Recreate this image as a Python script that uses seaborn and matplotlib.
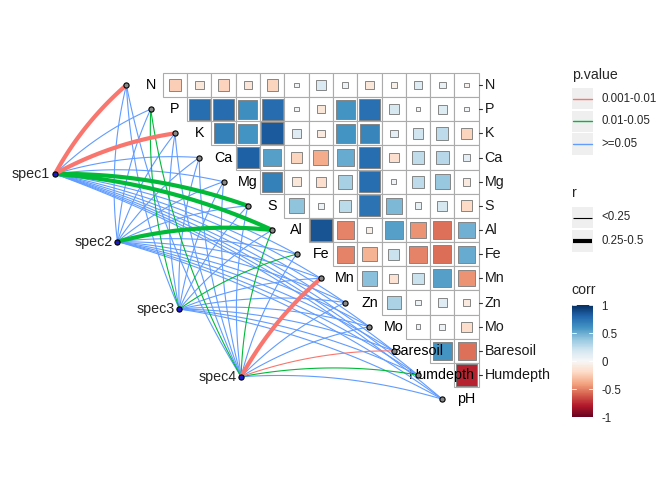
import numpy as np
import pandas as pd
import matplotlib
matplotlib.use('Agg')
import matplotlib.pyplot as plt
from matplotlib.patches import Rectangle
from matplotlib.colors import Normalize
from matplotlib.cm import ScalarMappable
import seaborn as sns

env = ['N', 'P', 'K', 'Ca', 'Mg', 'S', 'Al', 'Fe', 'Mn', 'Zn', 'Mo', 'Baresoil', 'Humdepth', 'pH']
spec = ['spec1', 'spec2', 'spec3', 'spec4']

# upper triangle of the env correlation matrix, row i = cor(env[i], env[i+1:])
r_N = [-0.25, -0.12, -0.23, -0.13, -0.22, 0.03, 0.15, 0.05, -0.12, -0.06, 0.12, 0.07, -0.04]
r_P = [0.76, 0.77, 0.62, 0.77, 0.03, -0.12, 0.60, 0.75, 0.17, 0.02, 0.14, 0.03]
r_K = [0.68, 0.60, 0.84, 0.12, -0.10, 0.60, 0.66, 0.10, 0.20, 0.26, -0.22]
r_Ca = [0.82, 0.55, -0.22, -0.37, 0.50, 0.76, -0.17, 0.25, 0.28, 0.10]
r_Mg = [0.68, -0.12, -0.17, 0.33, 0.76, 0.04, 0.26, 0.38, -0.10]
r_S = [0.40, 0.06, 0.27, 0.74, 0.45, 0.08, 0.17, -0.20]
r_Al = [0.86, -0.50, -0.06, 0.55, -0.45, -0.55, 0.48]
r_Fe = [-0.50, -0.35, 0.22, -0.50, -0.56, 0.50]
r_Mn = [0.42, -0.15, 0.22, 0.55, -0.45]
r_Zn = [0.32, 0.05, 0.12, -0.10]
r_Mo = [0.04, 0.06, -0.18]
r_Baresoil = [0.60, -0.55]
r_Humdepth = [-0.77]
corr_rows = [r_N, r_P, r_K, r_Ca, r_Mg, r_S, r_Al, r_Fe, r_Mn, r_Zn, r_Mo, r_Baresoil, r_Humdepth]

# mantel test classes, one entry per env variable
P1, P2, P3 = '0.001-0.01', '0.01-0.05', '>=0.05'
S1, S2 = '<0.25', '0.25-0.5'
spec1_p = [P1, P3, P1, P3, P3, P2, P2, P3, P3, P3, P3, P3, P3, P3]
spec1_r = [S2, S1, S2, S1, S1, S2, S2, S1, S1, S1, S1, S1, S1, S1]
spec2_p = [P3, P3, P3, P3, P3, P3, P2, P3, P3, P3, P3, P3, P3, P3]
spec2_r = [S1, S1, S1, S1, S1, S1, S2, S1, S1, S1, S1, S1, S1, S1]
spec3_p = [P3, P2, P3, P3, P3, P3, P3, P2, P3, P3, P3, P3, P3, P3]
spec3_r = [S1, S1, S1, S1, S1, S1, S1, S1, S1, S1, S1, S1, S1, S1]
spec4_p = [P3, P2, P3, P3, P3, P3, P2, P3, P1, P3, P3, P1, P2, P3]
spec4_r = [S1, S1, S1, S1, S1, S1, S1, S1, S2, S1, S1, S1, S1, S1]
mantel_p = [spec1_p, spec2_p, spec3_p, spec4_p]
mantel_r = [spec1_r, spec2_r, spec3_r, spec4_r]

# layout
spec_x = [-3.94, -1.37, 1.18, 3.72]
spec_y = [9.32, 6.52, 3.73, 0.93]
curv = 0.09
pal = {P1: '#F8766D', P2: '#00BA38', P3: '#619CFF'}
lw_map = {S1: 0.8, S2: 3.0}
fs = 10.3

sns.set_theme(style='white')
plt.rcParams['font.family'] = ['Liberation Sans', 'DejaVu Sans']

cmap = sns.color_palette('RdBu', as_cmap=True)
norm = Normalize(-1, 1)

fig = plt.figure(figsize=(6.72, 4.8), dpi=100)
ax = fig.add_axes([0, 0, 1, 1])
n = len(env) - 1

# correlation squares
for i, row in enumerate(corr_rows):
    y = n - i
    for j, r in enumerate(row):
        x = i + 1 + j
        ax.add_patch(Rectangle((x - 0.5, y - 0.5), 1, 1, fc='white', ec='#ABABAB', lw=0.8, zorder=1))
        s = np.sqrt(abs(r))
        ax.add_patch(Rectangle((x - s / 2, y - s / 2), s, s, fc=cmap(norm(r)),
                               ec='#858585', lw=0.7, zorder=1.2))

# right axis ticks / labels
for i in range(n):
    y = n - i
    ax.plot([n + 0.5, n + 0.65], [y, y], color='#333333', lw=0.8)
    ax.text(n + 0.74, y, env[i], ha='left', va='center', fontsize=fs, color='#1A1A1A')

# diagonal labels
for i, name in enumerate(env):
    ax.text(i, n - i, name, ha='center', va='center', fontsize=fs, color='black', zorder=1.5)

# curved links
recs = []
t = np.linspace(0, 1, 40)
k = 0
for si in range(len(spec)):
    x0, y0 = spec_x[si], spec_y[si]
    for ei in range(len(env)):
        x1, y1 = ei - 1, n - ei
        dx, dy = x1 - x0, y1 - y0
        cx = (x0 + x1) / 2 - curv * dy
        cy = (y0 + y1) / 2 + curv * dx
        bx = (1 - t) ** 2 * x0 + 2 * (1 - t) * t * cx + t ** 2 * x1
        by = (1 - t) ** 2 * y0 + 2 * (1 - t) * t * cy + t ** 2 * y1
        for a, b in zip(bx, by):
            recs.append((k, a, b, mantel_p[si][ei], mantel_r[si][ei]))
        k += 1
edges = pd.DataFrame(recs, columns=['edge', 'x', 'y', 'pd', 'rd'])

sns.lineplot(data=edges, x='x', y='y', units='edge', estimator=None, sort=False,
             hue='pd', hue_order=[P3, P2, P1], palette=pal,
             size='rd', size_order=[S1, S2], sizes=lw_map,
             legend=False, ax=ax, zorder=2, solid_capstyle='butt')

# nodes
env_nodes = pd.DataFrame({'x': [i - 1 for i in range(len(env))], 'y': [n - i for i in range(len(env))]})
sns.scatterplot(data=env_nodes, x='x', y='y', s=14, color='#888888', edgecolor='black',
                linewidth=0.8, ax=ax, zorder=3)
spec_nodes = pd.DataFrame({'x': spec_x, 'y': spec_y})
sns.scatterplot(data=spec_nodes, x='x', y='y', s=14, color='#1A1AC8', edgecolor='black',
                linewidth=0.8, ax=ax, zorder=3)
for si, sp in enumerate(spec):
    ax.text(spec_x[si] - 0.2, spec_y[si], sp, ha='right', va='center', fontsize=fs)

ax.set_xlim(-150.7 / 24.3, (672 - 150.7) / 24.3)
ax.set_ylim(13 - 395 / 24.17, 13 + 85 / 24.17)
ax.axis('off')

# legends (pixel coordinates)
lg = fig.add_axes([0, 0, 1, 1])
lg.set_xlim(0, 672)
lg.set_ylim(480, 0)
lg.axis('off')
lg.patch.set_alpha(0)
kx, kw = 571.7, 21.6
lg.text(kx, 75, 'p.value', fontsize=10.2, va='center')
for y, lab in zip([98.5, 121.3, 144.0], [P1, P2, P3]):
    lg.add_patch(Rectangle((kx, y - 10.8), kw, kw, fc='#EFEFEF', ec='none'))
    lg.plot([kx + 1.5, kx + kw - 1.5], [y, y], color=pal[lab], lw=1.0)
    lg.text(601, y, lab, fontsize=8.3, va='center')
lg.text(kx, 193, 'r', fontsize=10.2, va='center')
for y, lab in zip([217.5, 241.0], [S1, S2]):
    lg.add_patch(Rectangle((kx, y - 10.8), kw, kw, fc='#EFEFEF', ec='none'))
    lg.plot([kx + 1.5, kx + kw - 1.5], [y, y], color='black', lw=lw_map[lab], solid_capstyle='butt')
    lg.text(601, y, lab, fontsize=8.3, va='center')
lg.text(kx, 290, 'corr', fontsize=10.2, va='center')

cax = fig.add_axes([kx / 672, (480 - 417) / 480, kw / 672, 112 / 480])
cb = fig.colorbar(ScalarMappable(norm=norm, cmap=cmap), cax=cax, ticks=[-1, -0.5, 0, 0.5, 1])
cb.outline.set_visible(False)
cb.ax.set_yticklabels(['-1', '-0.5', '0', '0.5', '1'])
cb.ax.tick_params(length=0, pad=6, labelsize=8.3)
for v in [-1, -0.5, 0, 0.5, 1]:
    cax.plot([0, 0.2], [v, v], color='white', lw=0.6, transform=cax.get_yaxis_transform())
    cax.plot([0.8, 1], [v, v], color='white', lw=0.6, transform=cax.get_yaxis_transform())

fig.savefig('out.png', dpi=100)
